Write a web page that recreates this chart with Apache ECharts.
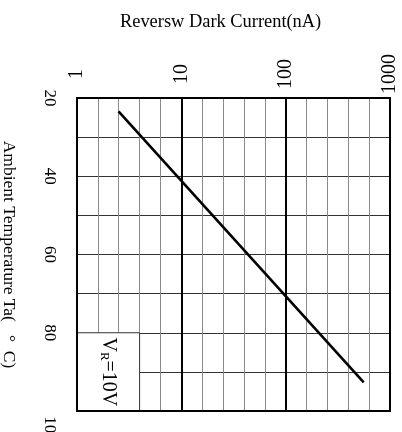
<!DOCTYPE html>
<html>
<head>
<meta charset="utf-8">
<script src="https://cdn.jsdelivr.net/npm/echarts@6/dist/echarts.min.js"></script>
<style>
  html, body { margin: 0; padding: 0; background: #fff; }
  #chart { width: 402px; height: 432px; }
</style>
</head>
<body>
<div id="chart"></div>
<script>
// Reverse dark current vs. ambient temperature (VR = 10 V)
const currentTicks = [1, 10, 100, 1000];          // nA, log scale
const temperatureTicks = [20, 40, 60, 80, 100];   // deg C
const darkCurrent = [2.5, 560];                   // nA
const temperature = [23.4, 92.7];                 // deg C

const FONT = '"Liberation Serif", "Times New Roman", serif';
const lineData = darkCurrent.map((c, i) => [c, temperature[i]]);

const chart = echarts.init(document.getElementById('chart'), null, { renderer: 'canvas' });

const tMin = temperatureTicks[0];
const tMax = temperatureTicks[temperatureTicks.length - 1];
const cMin = currentTicks[0];
const cMax = currentTicks[currentTicks.length - 1];
const decades = Math.log10(cMax / cMin);

chart.setOption({
  animation: false,
  backgroundColor: '#fff',
  title: {
    text: 'Reversw Dark Current(nA)',
    left: 120,
    top: 13,
    padding: 0,
    textStyle: { fontFamily: FONT, fontSize: 18.4, fontWeight: 'normal', color: '#000' }
  },
  grid: {
    left: 77, top: 98, width: 313, height: 313,
    containLabel: false, outerBoundsMode: 'none'
  },
  xAxis: [
    {
      // main log axis: labels, frame top, decade lines
      type: 'log', logBase: 10, min: cMin, max: cMax, position: 'top', z: 5,
      axisLine: { show: true, lineStyle: { color: '#000', width: 2 } },
      axisTick: { show: false },
      axisLabel: {
        rotate: -90, align: 'center', verticalAlign: 'middle', margin: 24,
        fontFamily: FONT, fontSize: 20, color: '#000',
        formatter: v => String(v)
      },
      splitLine: { show: true, lineStyle: { color: '#000', width: 2 } }
    },
    {
      // fifth-of-a-decade grid lines
      type: 'value', min: 0, max: decades, interval: 0.2, position: 'bottom', z: 0,
      axisLine: { show: false }, axisTick: { show: false }, axisLabel: { show: false },
      splitLine: { show: true, lineStyle: { color: '#8a8a8a', width: 1 } }
    },
    {
      // bottom frame edge
      type: 'value', min: 0, max: 1, position: 'bottom', z: 5,
      axisLine: { show: true, lineStyle: { color: '#000', width: 2 } },
      axisTick: { show: false }, axisLabel: { show: false }, splitLine: { show: false }
    }
  ],
  yAxis: [
    {
      type: 'value', min: tMin, max: tMax, interval: 20, inverse: true, position: 'left', z: 5,
      name: 'Ambient Temperature Ta(   °  C)',
      nameLocation: 'middle', nameRotate: -90, nameGap: 59,
      nameTextStyle: { fontFamily: FONT, fontSize: 17.5, color: '#000' },
      axisLine: { show: true, lineStyle: { color: '#000', width: 2 } },
      axisTick: { show: false },
      axisLabel: {
        rotate: -90, align: 'center', verticalAlign: 'middle', margin: 28,
        fontFamily: FONT, fontSize: 17, color: '#000',
        formatter: v => (v === tMax ? '{s|' + v + '}' : String(v)),
        rich: { s: { fontFamily: FONT, fontSize: 17, color: '#000', padding: [0, 0, 0, 36] } }
      },
      splitLine: { show: false }
    },
    {
      type: 'value', min: tMin, max: tMax, interval: 10, inverse: true, position: 'left', z: 0,
      axisLine: { show: false }, axisTick: { show: false }, axisLabel: { show: false },
      splitLine: { show: true, lineStyle: { color: '#333', width: 1 } }
    },
    {
      type: 'value', min: tMin, max: tMax, inverse: true, position: 'right', z: 5,
      axisLine: { show: true, lineStyle: { color: '#000', width: 2 } },
      axisTick: { show: false }, axisLabel: { show: false }, splitLine: { show: false }
    }
  ],
  series: [
    {
      type: 'line',
      xAxisIndex: 0, yAxisIndex: 0,
      data: lineData,
      symbol: 'none',
      z: 3,
      lineStyle: { color: '#000', width: 2.6 },
      markArea: {
        silent: true,
        itemStyle: { color: '#fff', borderColor: '#333', borderWidth: 1 },
        label: {
          show: true, position: 'inside', rotate: -90,
          formatter: '{v|V}{r|R}{v|=10V}',
          rich: {
            v: { fontFamily: FONT, fontSize: 20, color: '#000' },
            r: { fontFamily: FONT, fontSize: 13, color: '#000', verticalAlign: 'bottom' }
          }
        },
        data: [[{ coord: [cMin, 80] }, { coord: [Math.pow(10, 0.6), tMax] }]]
      }
    }
  ]
});
</script>
</body>
</html>
